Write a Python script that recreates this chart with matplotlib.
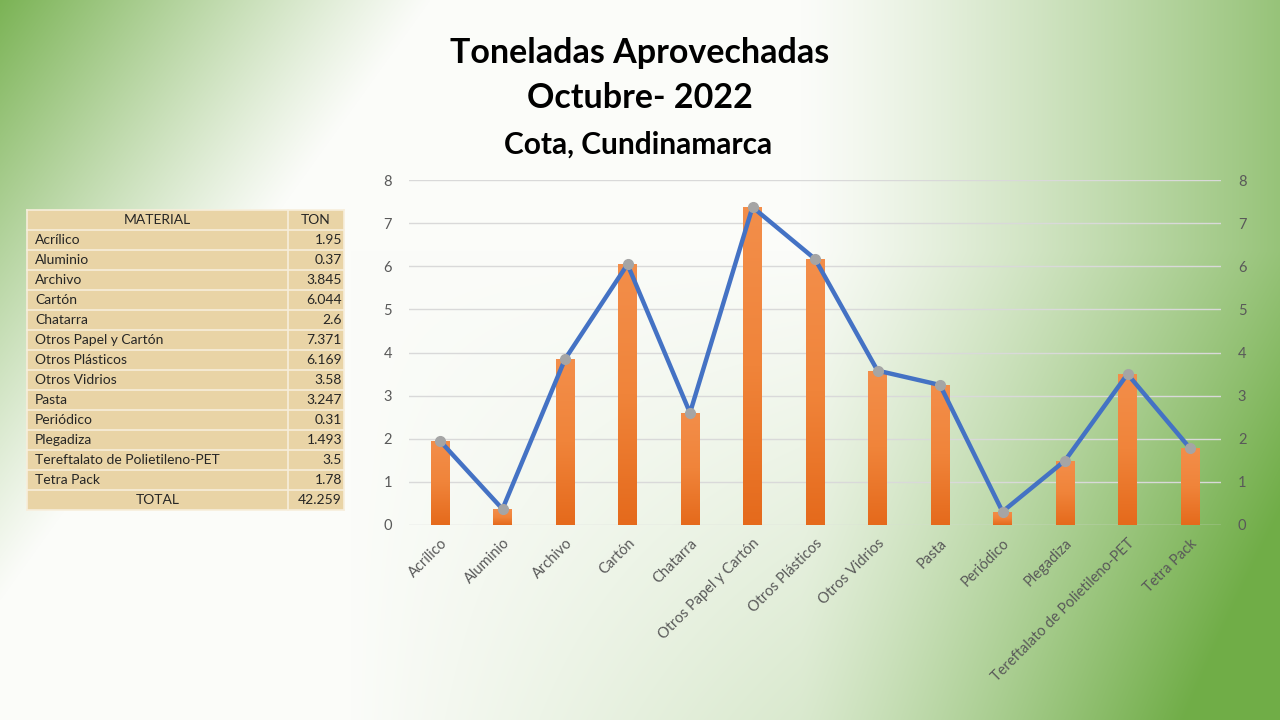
import numpy as np
import matplotlib.pyplot as plt
from matplotlib.patches import Rectangle
from matplotlib.colors import LinearSegmentedColormap

plt.rcParams['font.family'] = ['Lato', 'DejaVu Sans']

# data
materiales = ['Acrílico', 'Aluminio', 'Archivo', 'Cartón', 'Chatarra',
              'Otros Papel y Cartón', 'Otros Plásticos', 'Otros Vidrios',
              'Pasta', 'Periódico', 'Plegadiza',
              'Tereftalato de Polietileno-PET', 'Tetra Pack']
toneladas = [1.95, 0.37, 3.845, 6.044, 2.6, 7.371, 6.169, 3.58,
             3.247, 0.31, 1.493, 3.5, 1.78]
ton_labels = ['1.95', '0.37', '3.845', '6.044', '2.6', '7.371', '6.169',
              '3.58', '3.247', '0.31', '1.493', '3.5', '1.78']
total_label = '42.259'

W, H = 1280, 720
fig = plt.figure(figsize=(12.8, 7.2), dpi=100)

# background gradient (white centre, green corners)
bg = fig.add_axes([0, 0, 1, 1], zorder=-10)
xx, yy = np.meshgrid(np.arange(W), np.arange(H))
g1 = 0.92 * np.clip(1 - (xx / 430.0 + yy / 600.0), 0, 1) ** 1.1
g2 = (0.72 * np.clip((xx - 800) / 480.0, 0, 1) ** 1.2
      + 0.5 * np.clip((yy - 250) / 470.0, 0, 1) * np.clip((xx - 350) / 930.0, 0, 1))
g = np.clip(np.maximum(g1, g2), 0, 1)[..., None]
white = np.array([251, 252, 249]) / 255
green = np.array([112, 173, 71]) / 255
img = white * (1 - g) + green * g
bg.imshow(img, extent=[0, W, H, 0], aspect='auto')
bg.set_xlim(0, W)
bg.set_ylim(H, 0)
bg.axis('off')

# titles
fig.text(640 / W, 1 - 53 / H, 'Toneladas Aprovechadas', ha='center', va='center',
         fontsize=24.5, fontweight='bold', color='black')
fig.text(640 / W, 1 - 98 / H, 'Octubre- 2022', ha='center', va='center',
         fontsize=24.5, fontweight='bold', color='black')
fig.text(638 / W, 1 - 145 / H, 'Cota, Cundinamarca', ha='center', va='center',
         fontsize=21.5, fontweight='bold', color='black')

# chart
ax = fig.add_axes([408.75 / W, 1 - 525 / H, 812.5 / W, 345 / H])
ax.patch.set_alpha(0)
x = np.arange(len(materiales))
bars = ax.bar(x, toneladas, width=0.29, color='#ED7D31', zorder=2)
grad = np.linspace(0, 1, 100)[:, None]
cmap = LinearSegmentedColormap.from_list('naranja', ['#E56A1C', '#F0843A', '#F38E4A'])
for b in bars:
    im = ax.imshow(grad, cmap=cmap, origin='lower', aspect='auto', zorder=2,
                   extent=[b.get_x(), b.get_x() + b.get_width(), 0, b.get_height()])
    im.set_clip_path(b)
ax.set_xlim(-0.5, len(materiales) - 0.5)
ax.set_ylim(0, 8)
ax.set_yticks(range(0, 9))
ax.grid(axis='y', color='#D9D9D9', linewidth=1, zorder=0)
ax.set_axisbelow(True)
for s in ax.spines.values():
    s.set_visible(False)
ax.tick_params(length=0, colors='#595959', labelsize=10.5)
ax.tick_params(axis='y', pad=12)
ax.set_xticks(x)
ax.set_xticklabels(materiales, rotation=45, ha='right', rotation_mode='anchor',
                   color='#595959', fontsize=10.5)
ax.tick_params(axis='x', pad=8)

ax2 = ax.twinx()
ax2.plot(x, toneladas, color='#4472C4', linewidth=3.2, marker='o',
         markersize=7, markerfacecolor='#A5A5A5', markeredgecolor='#A5A5A5',
         zorder=3)
ax2.set_ylim(0, 8)
ax2.set_yticks(range(0, 9))
for s in ax2.spines.values():
    s.set_visible(False)
ax2.tick_params(length=0, colors='#595959', labelsize=10.5, pad=12)

# table
tx = fig.add_axes([0, 0, 1, 1], zorder=5)
tx.set_xlim(0, W)
tx.set_ylim(H, 0)
tx.axis('off')
left, mid, right = 27, 288, 344
top, rh = 210, 20
n_rows = len(materiales) + 2
tx.add_patch(Rectangle((left, top), right - left, rh * n_rows,
                       facecolor='#E9D4A6', edgecolor='none'))
for i in range(n_rows + 1):
    tx.plot([left, right], [top + i * rh, top + i * rh], color='#F7EEDC', lw=1.2)
for xv in (left, mid, right):
    tx.plot([xv, xv], [top, top + rh * n_rows], color='#F7EEDC', lw=1.2)
txt = dict(fontsize=10, color='#262626', va='center')
tx.text((left + mid) / 2, top + rh / 2, 'MATERIAL', ha='center', **txt)
tx.text((mid + right) / 2, top + rh / 2, 'TON', ha='center', **txt)
for i, (m, t) in enumerate(zip(materiales, ton_labels)):
    yc = top + (i + 1.5) * rh
    tx.text(left + 8, yc, m, ha='left', **txt)
    tx.text(right - 2, yc, t, ha='right', **txt)
yc = top + (n_rows - 0.5) * rh
tx.text((left + mid) / 2, yc, 'TOTAL', ha='center', **txt)
tx.text(right - 2, yc, total_label, ha='right', **txt)

fig.savefig('out.png', dpi=100)
